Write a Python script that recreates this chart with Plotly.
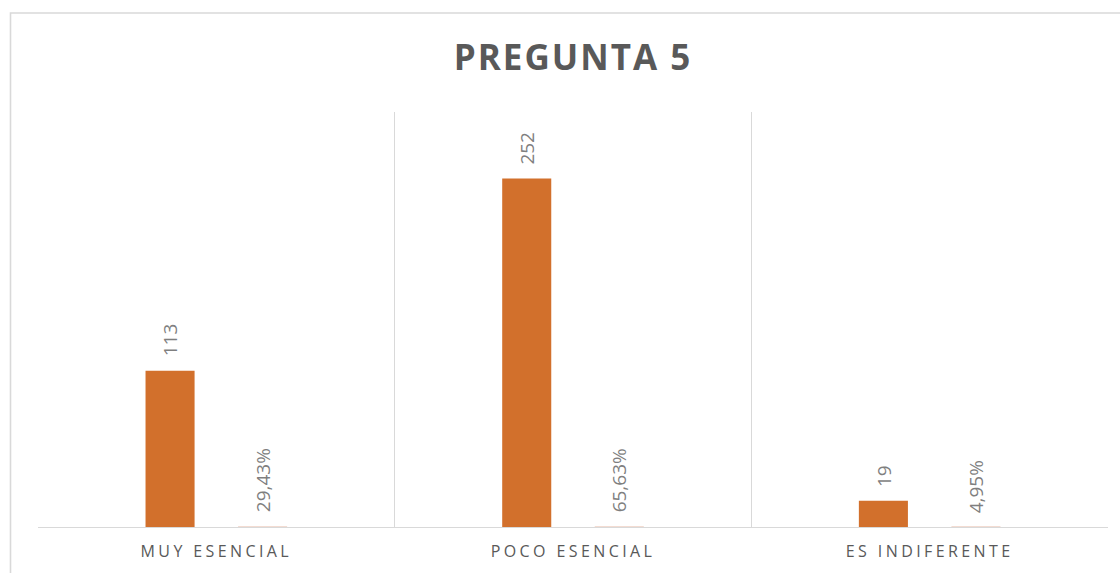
import plotly.graph_objects as go

# Survey results for question 5
categories = ["MUY ESENCIAL", "POCO ESENCIAL", "ES INDIFERENTE"]
counts = [113, 252, 19]
shares = [0.2943, 0.6563, 0.0495]

BAR_COLOR = "#D2702C"
SHARE_COLOR = "#F3DCD2"
GRID_COLOR = "#D9D9D9"
LABEL_COLOR = "#7F7F7F"
TEXT_COLOR = "#595959"
FONT = "Open Sans"

BARGAP = 0.481
BARGROUPGAP = 0.47

fig = go.Figure()
fig.add_trace(go.Bar(x=categories, y=counts, name="Cantidad",
                     marker=dict(color=BAR_COLOR, line=dict(width=0))))
fig.add_trace(go.Bar(x=categories, y=shares, name="Porcentaje",
                     marker=dict(color=SHARE_COLOR, line=dict(width=0))))

# rotated value labels above each bar of the grouped pair
slot = (1 - BARGAP) / 2
offsets = [-slot / 2, slot / 2]
annotations = []
for i, (c, s) in enumerate(zip(counts, shares)):
    for off, val, txt in ((offsets[0], c, str(c)),
                          (offsets[1], s, f"{s * 100:.2f}%".replace(".", ","))):
        annotations.append(dict(
            x=i + off, y=val, xref="x", yref="y", text=txt,
            showarrow=False, textangle=-90, yanchor="bottom", xanchor="center",
            yshift=12, font=dict(family=FONT, size=19, color=LABEL_COLOR)))

fig.update_layout(
    width=1120, height=573,
    margin=dict(l=38, r=12, t=112, b=46),
    paper_bgcolor="white", plot_bgcolor="white",
    barmode="group", bargap=BARGAP, bargroupgap=BARGROUPGAP,
    showlegend=False,
    title=dict(text="<b>PREGUNTA 5</b>", x=0.5, xref="paper", xanchor="center",
               y=1 - 57.5 / 573, yref="container", yanchor="middle",
               font=dict(family=FONT, size=35, color=TEXT_COLOR)),
    xaxis=dict(type="category", tickson="boundaries", showgrid=True,
               gridcolor=GRID_COLOR, gridwidth=1.3, showline=True,
               linecolor=GRID_COLOR, linewidth=1.3, ticks="", ticklen=0,
               ticklabelstandoff=10,
               tickfont=dict(family=FONT, size=16, color=TEXT_COLOR),
               range=[-0.5, 2.5]),
    yaxis=dict(range=[0, 300], showgrid=False, showticklabels=False,
               zeroline=False, showline=False, ticks=""),
    annotations=annotations,
    shapes=[dict(type="rect", xref="paper", yref="paper",
                 x0=(10.5 - 38) / 1070, x1=1.05, y0=-0.3, y1=(527 - 13) / 415,
                 line=dict(color=GRID_COLOR, width=1.6), layer="below")],
)

spacing_js = """
var gd = document.getElementById('{plot_id}');
gd.querySelectorAll('.xtick text').forEach(function(t){ t.style.letterSpacing = '3.4px'; });
gd.querySelectorAll('.gtitle').forEach(function(t){ t.style.letterSpacing = '2px'; });
"""

fig.write_html("out.html", post_script=spacing_js)
